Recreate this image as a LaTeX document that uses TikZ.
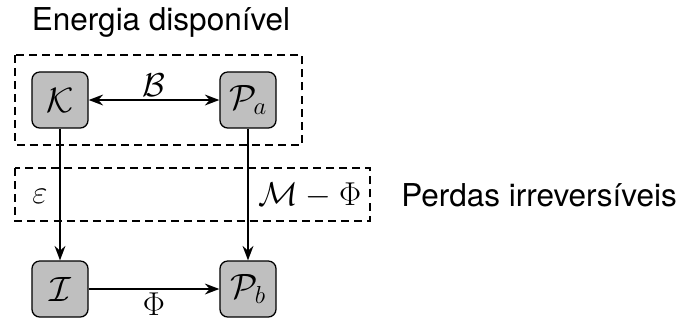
\RequirePackage{fix-cm}
\documentclass[tikz,border=0pt]{standalone}
\usepackage{amsmath}
\usepackage{amssymb}
\usepackage{fontspec}
\newfontfamily\heros{TeX Gyre Heros}
\usetikzlibrary{arrows.meta}
\tikzset{>=Stealth}

\begin{document}
\begin{tikzpicture}[x=0.025cm,y=-0.025cm,
    bloco/.style={draw,line width=0.9pt,fill=gray!50,rounded corners=5.5pt,
        minimum size=1.4cm,inner sep=0pt,font=\fontsize{25}{30}\selectfont},
    seta/.style={->,line width=1.6pt},
    grupo/.style={line width=1.6pt,dash pattern=on 5.7pt off 3.6pt},
    rotulo/.style={font=\fontsize{23.5}{28}\selectfont},
    legenda/.style={inner sep=0pt,font=\heros\fontsize{22.4}{27}\selectfont}]
    \useasboundingbox (0,0) rectangle (679,325);
    % Energy reservoirs
    \node[bloco] (K) at (60,100) {$\mathcal{K}$};
    \node[bloco] (Pa) at (248,100) {$\mathcal{P}_a$};
    \node[bloco] (I) at (60,289) {$\mathcal{I}$};
    \node[bloco] (Pb) at (248,289) {$\mathcal{P}_b$};
    % Dashed groups
    \draw[grupo] (15,55) rectangle (302,145);
    \draw[grupo] (15,168) rectangle (370,221);
    \node[legenda] (disp) at (161,22) {Energia dispon\'ivel};
    \node[legenda,anchor=west] (perdas) at (401,195) {Perdas irrevers\'iveis};
    % Conversion terms
    \draw[seta,<->] (K) -- (Pa) node[rotulo,midway,above,inner sep=2pt] {$\mathcal{B}$};
    \draw[seta] (K) -- (I);
    \draw[seta] (Pa) -- (Pb);
    \draw[seta] (I) -- (Pb) node[rotulo,midway,below,inner sep=2pt] {$\Phi$};
    \node[rotulo] (eps) at (40,196) {$\varepsilon$};
    \node[rotulo] (mphi) at (310,196) {$\mathcal{M}-\Phi$};
\end{tikzpicture}
\end{document}
